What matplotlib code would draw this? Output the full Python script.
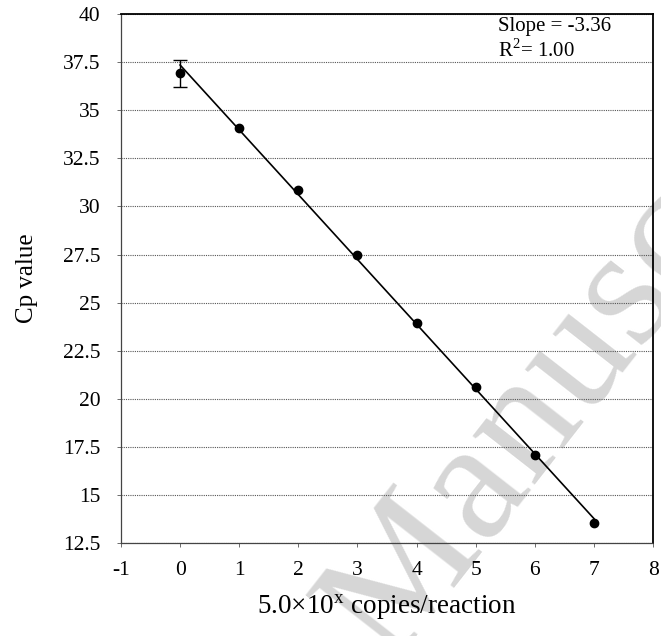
import numpy as np
import matplotlib
matplotlib.use("Agg")
import matplotlib.pyplot as plt

plt.rcParams['font.family'] = ['Liberation Serif', 'DejaVu Serif']
plt.rcParams['mathtext.fontset'] = 'custom'
plt.rcParams['mathtext.rm'] = 'Liberation Serif'
plt.rcParams['axes.unicode_minus'] = False

# data
log_copies = np.array([0, 1, 2, 3, 4, 5, 6, 7])
cp_value = np.array([36.93, 34.07, 30.85, 27.47, 23.94, 20.61, 17.08, 13.55])
cp_err = np.array([0.70, 0, 0, 0, 0, 0, 0, 0])
y_ticks = [12.5, 15, 17.5, 20, 22.5, 25, 27.5, 30, 32.5, 35, 37.5, 40]
x_ticks = [-1, 0, 1, 2, 3, 4, 5, 6, 7, 8]
slope_txt = "Slope = -3.36"
r2_txt = "1.00"

fig = plt.figure(figsize=(6.61, 6.36), dpi=100)
ax = fig.add_axes([0.183, 0.146, 0.805, 0.832])
ax.set_zorder(2)
ax.set_facecolor('none')

# faint watermark behind the plot (runs off the page like in the scan)
fig.text(0.59, -0.045, "Manuscript", fontsize=124, rotation=52, color='#d6d6d6',
         ha='left', va='baseline', rotation_mode='anchor',
         family='Liberation Serif', zorder=0)

# regression line
slope, intercept = np.polyfit(log_copies, cp_value, 1)
xs = np.array([log_copies[0], log_copies[-1]])
ax.plot(xs, slope * xs + intercept, color='black', lw=1.2, zorder=3)

ax.plot(log_copies, cp_value, 'o', color='black', ms=6, zorder=4)
has_err = cp_err > 0
ax.errorbar(log_copies[has_err], cp_value[has_err], yerr=cp_err[has_err], fmt='none',
            ecolor='black', capsize=5, elinewidth=1, capthick=1, zorder=4)

ax.set_xlim(-1, 8)
ax.set_ylim(12.5, 40)
ax.set_xticks(x_ticks)
ax.set_yticks(y_ticks)
ax.set_yticklabels(['%g' % v for v in y_ticks])
ax.yaxis.grid(True, linestyle=(0, (1, 1)), color='#555555', lw=0.8)
ax.tick_params(axis='both', labelsize=15.5, length=3, width=0.6, color='#555555')
ax.tick_params(axis='y', pad=12)
ax.tick_params(axis='x', pad=10)

for s in ['left', 'bottom']:
    ax.spines[s].set_linestyle((0, (1, 1)))
    ax.spines[s].set_color('#444444')
    ax.spines[s].set_linewidth(0.9)
for s in ['top', 'right']:
    ax.spines[s].set_color('black')
    ax.spines[s].set_linewidth(1.3)

ax.set_xlabel(r"5.0×10$^{\mathregular{x}}$ copies/reaction", fontsize=19.5, labelpad=9)
ax.set_ylabel("Cp value", fontsize=18, labelpad=18)

ax.text(0.709, 0.995, slope_txt, transform=ax.transAxes,
        fontsize=15, va='top', ha='left')
ax.text(0.709, 0.952, r"R$^{\mathregular{2}}$= " + r2_txt, transform=ax.transAxes,
        fontsize=15, va='top', ha='left')

fig.savefig("out.png", dpi=100)
